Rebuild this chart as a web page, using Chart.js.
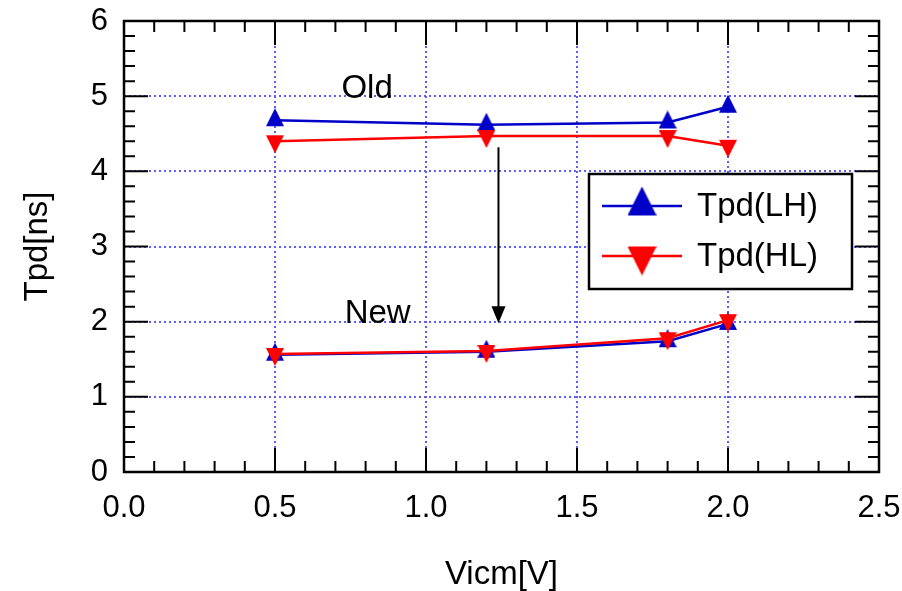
<!DOCTYPE html>
<html>
<head>
<meta charset="utf-8">
<title>Tpd vs Vicm</title>
<script src="https://cdn.jsdelivr.net/npm/chart.js@4.4.1/dist/chart.umd.min.js"></script>
<style>
  html, body { margin: 0; padding: 0; background: #fff; }
  #chart { display: block; }
</style>
</head>
<body>
<canvas id="chart" width="902" height="591"></canvas>
<script>
// datos
const vicm = [0.5, 1.2, 1.8, 2.0];
const oldLH = [4.68, 4.62, 4.65, 4.86];
const oldHL = [4.40, 4.47, 4.47, 4.34];
const newLH = [1.56, 1.60, 1.74, 1.97];
const newHL = [1.57, 1.61, 1.78, 2.02];

const xTicks = [0.0, 0.5, 1.0, 1.5, 2.0, 2.5];
const yTicks = [0, 1, 2, 3, 4, 5, 6];
const legendLabels = ['Tpd(LH)', 'Tpd(HL)'];

// notas en unidades de datos
const notaOld = { text: 'Old', x: 0.805, y: 5.1 };
const notaNew = { text: 'New', x: 0.84, y: 2.1 };
const flecha = { x: 1.24, y0: 4.32, y1: 1.98 };

const AZUL = '#0000c8';
const ROJO = '#ff0000';
const FUENTE = '"Liberation Sans", Arial, sans-serif';

// triangulo tan alto como ancho, centrado en su baricentro
function trianguloCanvas(color, w, abajo) {
    const c = document.createElement('canvas');
    c.width = w;
    c.height = Math.round(w * 4 / 3);
    const g = c.getContext('2d');
    g.fillStyle = color;
    g.beginPath();
    if (abajo) {
        const y0 = c.height - w;
        g.moveTo(0, y0); g.lineTo(w, y0); g.lineTo(w / 2, c.height);
    } else {
        g.moveTo(w / 2, 0); g.lineTo(w, w); g.lineTo(0, w);
    }
    g.closePath();
    g.fill();
    return c;
}

const triAzul = trianguloCanvas(AZUL, 18, false);
const triRojo = trianguloCanvas(ROJO, 18, true);
const triAzulLey = trianguloCanvas(AZUL, 29, false);
const triRojoLey = trianguloCanvas(ROJO, 29, true);

function puntos(ys) {
    return vicm.map((x, i) => ({ x: x, y: ys[i] }));
}

function serie(label, ys, color, marca, orden) {
    return {
        label: label,
        data: puntos(ys),
        showLine: true,
        borderColor: color,
        backgroundColor: color,
        borderWidth: 2.5,
        pointStyle: marca,
        pointRadius: 10,
        order: orden
    };
}

// marco, ticks interiores, leyenda y notas
const extras = {
    id: 'extras',
    afterDraw(chart) {
        const ctx = chart.ctx;
        const a = chart.chartArea;
        const xs = chart.scales.x, ys = chart.scales.y;
        ctx.save();
        ctx.strokeStyle = '#000';
        ctx.lineWidth = 2;
        ctx.beginPath();
        for (let v = 0; v <= 25; v++) {
            const px = xs.getPixelForValue(v / 10);
            const len = v % 5 === 0 ? 24 : 11;
            ctx.moveTo(px, a.bottom); ctx.lineTo(px, a.bottom - len);
            ctx.moveTo(px, a.top); ctx.lineTo(px, a.top + len);
        }
        for (let v = 0; v <= 30; v++) {
            const py = ys.getPixelForValue(v / 5);
            const len = v % 5 === 0 ? 24 : 11;
            ctx.moveTo(a.left, py); ctx.lineTo(a.left + len, py);
            ctx.moveTo(a.right, py); ctx.lineTo(a.right - len, py);
        }
        ctx.stroke();
        ctx.lineWidth = 2.5;
        ctx.strokeRect(a.left, a.top, a.right - a.left, a.bottom - a.top);

        // leyenda
        const lx = 589, ly = 174, lw = 263, lh = 115;
        ctx.fillStyle = '#fff';
        ctx.fillRect(lx, ly, lw, lh);
        ctx.lineWidth = 2.5;
        ctx.strokeRect(lx, ly, lw, lh);
        const colores = [AZUL, ROJO];
        const marcas = [triAzulLey, triRojoLey];
        ctx.font = '33px ' + FUENTE;
        ctx.textBaseline = 'middle';
        legendLabels.forEach((t, i) => {
            const yy = ly + 32 + i * 50;
            ctx.strokeStyle = colores[i];
            ctx.lineWidth = 2.5;
            ctx.beginPath();
            ctx.moveTo(lx + 13, yy); ctx.lineTo(lx + 93, yy);
            ctx.stroke();
            const m = marcas[i];
            ctx.drawImage(m, lx + 53 - m.width / 2, yy - m.height / 2);
            ctx.fillStyle = '#000';
            ctx.textAlign = 'left';
            ctx.fillText(t, lx + 108, yy + 1);
        });

        // notas
        ctx.fillStyle = '#000';
        ctx.textAlign = 'center';
        [notaOld, notaNew].forEach(n => {
            ctx.fillText(n.text, xs.getPixelForValue(n.x), ys.getPixelForValue(n.y));
        });

        // flecha
        const fx = xs.getPixelForValue(flecha.x);
        const f0 = ys.getPixelForValue(flecha.y0);
        const f1 = ys.getPixelForValue(flecha.y1);
        ctx.strokeStyle = '#000';
        ctx.lineWidth = 2;
        ctx.beginPath();
        ctx.moveTo(fx, f0); ctx.lineTo(fx, f1 - 12);
        ctx.stroke();
        ctx.beginPath();
        ctx.moveTo(fx, f1);
        ctx.lineTo(fx - 7, f1 - 17);
        ctx.lineTo(fx + 7, f1 - 17);
        ctx.closePath();
        ctx.fill();
        ctx.restore();
    }
};

const grid = {
    color: '#5c5cff',
    lineWidth: 2,
    drawTicks: false
};

new Chart(document.getElementById('chart'), {
    type: 'scatter',
    data: {
        datasets: [
            serie('Old LH', oldLH, AZUL, triAzul, 2),
            serie('Old HL', oldHL, ROJO, triRojo, 1),
            serie('New LH', newLH, AZUL, triAzul, 2),
            serie('New HL', newHL, ROJO, triRojo, 1)
        ]
    },
    options: {
        responsive: false,
        animation: false,
        layout: { padding: { left: 0, top: 21, right: 23, bottom: 0 } },
        plugins: { legend: { display: false }, tooltip: { enabled: false } },
        scales: {
            x: {
                type: 'linear',
                min: 0, max: 2.5,
                afterBuildTicks: s => { s.ticks = xTicks.map(v => ({ value: v })); },
                afterFit: s => { s.height = 119; s.paddingLeft = 0; s.paddingRight = 0; },
                grid: grid,
                border: { display: false, dash: [2, 3] },
                ticks: {
                    padding: 18,
                    color: '#000',
                    font: { family: FUENTE, size: 31 },
                    callback: v => Number(v).toFixed(1)
                },
                title: {
                    display: true,
                    text: 'Vicm[V]',
                    color: '#000',
                    font: { family: FUENTE, size: 33, lineHeight: 1.0 },
                    padding: { top: 0, bottom: 0 }
                }
            },
            y: {
                type: 'linear',
                min: 0, max: 6,
                afterBuildTicks: s => { s.ticks = yTicks.map(v => ({ value: v })); },
                afterFit: s => { s.width = 124; s.paddingTop = 0; s.paddingBottom = 0; },
                grid: grid,
                border: { display: false, dash: [2, 3] },
                ticks: {
                    padding: 16,
                    color: '#000',
                    font: { family: FUENTE, size: 31 }
                },
                title: {
                    display: true,
                    text: 'Tpd[ns]',
                    color: '#000',
                    font: { family: FUENTE, size: 33, lineHeight: 1.2 },
                    padding: { top: 18, bottom: 0 }
                }
            }
        }
    },
    plugins: [extras]
});
</script>
</body>
</html>
